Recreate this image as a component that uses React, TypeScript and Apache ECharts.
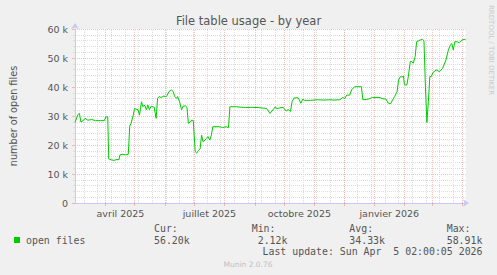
import React, { useEffect, useRef } from "react";
import * as echarts from "echarts";

const TITLE = "File table usage - by year";
const Y_NAME = "number of open files";
const START_MS = Date.UTC(2025, 2, 1, 2, 0, 5);
const DAY_MS = 86400000;
const SPAN_DAYS = 400;

// days since the graph start (1 Mar 2025) and open files in thousands
const dayOffsets = [
  0, 3, 4.5, 6, 8, 9.5, 11, 12.5, 14.5, 17, 21, 26, 30, 31.5, 33.5, 34.5, 37, 40, 43, 45,
  46, 49, 52, 54.5, 56, 57.5, 59.5, 61, 63, 64.5, 66, 68, 69.5, 71, 73, 74.5, 76, 78, 81, 83,
  84.5, 86, 88, 91, 93, 94.5, 96, 98.5, 100.5, 102, 104, 105, 107, 109, 110.5, 113, 114.5, 116, 118, 119.5,
  121, 123, 124.5, 126, 128, 129.5, 131, 133, 134.5, 136, 138, 139.5, 141, 148, 151, 154.5, 157, 158.5, 165, 174.5,
  180, 188, 196, 199.5, 203, 205, 206, 209.5, 213, 216, 218, 220.5, 222, 224, 228, 229.5, 231, 233, 235, 241,
  248, 254.5, 261, 265, 271, 274, 276, 278, 281, 283, 286, 293, 294.5, 298, 301, 304.5, 311, 316, 318, 320.5,
  323, 325, 327, 329.5, 331, 333, 334.5, 336, 337, 339.5, 341, 343, 344.5, 346, 348, 349.5, 353, 355.5, 357, 358.5,
  360, 361.5, 363, 364.5, 366, 369.5, 373, 376, 379.5, 382, 384, 385.5, 387, 388.5, 391, 393, 395, 397, 399.5,
];
const openFilesK = [
  27.8, 30.5, 30.9, 28.0, 28.3, 28.9, 29.2, 28.6, 28.6, 28.8, 28.4, 28.4, 28.4, 29.7, 29.7, 15.2, 14.9, 14.7, 15.0, 14.9,
  16.6, 16.8, 16.6, 16.8, 26.5, 27.6, 30.2, 32.6, 32.3, 32.2, 30.3, 34.9, 33.2, 33.8, 32.2, 33.8, 32.2, 33.4, 33.0, 29.2,
  36.1, 36.7, 36.4, 36.9, 36.6, 37.2, 38.4, 39.0, 38.4, 36.7, 36.1, 36.7, 34.9, 32.2, 33.4, 33.5, 33.0, 27.5, 27.9, 28.6,
  28.4, 17.7, 17.2, 18.0, 18.7, 23.4, 21.1, 21.7, 22.3, 22.9, 21.7, 23.4, 26.3, 26.3, 26.0, 26.3, 26.0, 33.2, 33.2, 32.9,
  33.0, 32.9, 32.6, 30.9, 32.3, 33.2, 32.5, 32.8, 33.0, 31.7, 32.2, 31.6, 34.9, 36.2, 36.3, 35.6, 34.4, 35.8, 35.4, 35.4,
  35.6, 35.5, 35.6, 35.5, 35.6, 36.4, 36.0, 37.2, 37.2, 39.0, 40.1, 40.1, 35.6, 35.7, 35.9, 36.4, 36.4, 35.9, 35.9, 34.4,
  34.3, 35.6, 36.7, 38.4, 42.4, 43.6, 43.4, 43.8, 40.7, 40.7, 43.6, 48.8, 48.8, 48.2, 50.5, 55.6, 56.2, 56.4, 56.0, 40.0,
  27.8, 35.0, 43.6, 43.6, 44.9, 45.9, 45.3, 46.4, 49.3, 52.8, 54.5, 55.0, 52.8, 55.6, 55.6, 55.3, 55.9, 56.4, 56.4,
];

// vertical grid: month starts (major) and every other Monday (minor), as days since start
const monthStartDays = [31, 61, 92, 122, 153, 184, 214, 245, 275, 306, 337, 365, 396];
const minorGridDays = [
  9, 23, 37, 51, 65, 79, 93, 107, 121, 135, 149, 163, 177, 191, 205, 219, 233, 247, 261, 275,
  289, 303, 317, 331, 345, 359, 373, 387,
];
const xLabelDays = [46.5, 137.5, 229.5, 321.5];
const xLabels = ["avril 2025", "juillet 2025", "octobre 2025", "janvier 2026"];

const legendName = "open files";
const statHeads = ["Cur:", "Min:", "Avg:", "Max:"];
const statValues = ["56.20k", "2.12k", "34.33k", "58.91k"];
const LAST_UPDATE = "Last update: Sun Apr  5 02:00:05 2026";
const VENDOR = "RRDTOOL / TOBI OETIKER";
const FOOTER = "Munin 2.0.76";

const toMs = (d: number) => START_MS + d * DAY_MS;

export default function App() {
  const ref = useRef<HTMLDivElement>(null);
  useEffect(() => {
    if (!ref.current) return;
    const chart = echarts.init(ref.current, null, { renderer: "svg" });
    const sans = "DejaVu Sans";
    const mono = "DejaVu Sans Mono";
    const textColor = "#555";
    const redGrid = "rgba(230,130,130,0.5)";
    const grayGrid = "#dcdcdc";
    const axisColor = "#c8c8f4";
    const labelTimes = xLabelDays.map(toMs);

    const statX = [154, 251.7, 349.3, 446.7];
    const valX = [154, 257.7, 349.3, 446.7];

    chart.setOption({
      animation: false,
      backgroundColor: "#f0f0f0",
      title: {
        text: TITLE,
        left: "center",
        top: 10,
        textStyle: { fontFamily: sans, fontSize: 11.5, fontWeight: "normal", color: textColor },
      },
      grid: {
        left: 66,
        top: 29,
        width: 400,
        height: 174,
        show: true,
        backgroundColor: "#ffffff",
        borderWidth: 0,
      },
      xAxis: {
        type: "value",
        min: toMs(0),
        max: toMs(SPAN_DAYS),
        axisLine: {
          show: true,
          lineStyle: { color: axisColor, width: 1 },
          symbol: ["none", "arrow"],
          symbolSize: [6, 6],
          symbolOffset: [0, 3],
        },
        axisTick: {
          show: true,
          customValues: monthStartDays.map(toMs),
          length: 3,
          lineStyle: { color: redGrid },
        },
        axisLabel: {
          show: true,
          customValues: labelTimes,
          margin: 5,
          fontFamily: sans,
          fontSize: 9.5,
          color: textColor,
          formatter: (v: number) => {
            let best = 0;
            for (let i = 1; i < labelTimes.length; i++) {
              if (Math.abs(labelTimes[i] - v) < Math.abs(labelTimes[best] - v)) best = i;
            }
            return xLabels[best];
          },
        },
        splitLine: { show: false },
      },
      yAxis: {
        type: "value",
        min: 0,
        max: 60,
        interval: 10,
        name: Y_NAME,
        nameLocation: "middle",
        nameGap: 57,
        nameTextStyle: { fontFamily: sans, fontSize: 9.7, color: textColor },
        axisLine: {
          show: true,
          lineStyle: { color: axisColor, width: 1 },
          symbol: ["none", "arrow"],
          symbolSize: [6, 6],
          symbolOffset: [0, 6],
        },
        axisTick: { show: true, length: 3, lineStyle: { color: redGrid } },
        minorTick: { show: true, splitNumber: 5, length: 2, lineStyle: { color: grayGrid } },
        axisLabel: {
          margin: 7,
          fontFamily: sans,
          fontSize: 9.5,
          color: textColor,
          formatter: (v: number) => (v === 0 ? "0" : `${v} k`),
        },
        splitLine: { show: true, lineStyle: { color: redGrid, type: "dotted", width: 1 } },
        minorSplitLine: { show: true, lineStyle: { color: grayGrid, type: "dotted", width: 1 } },
      },
      series: [
        {
          type: "line",
          data: [],
          silent: true,
          z: 1,
          markLine: {
            silent: true,
            symbol: "none",
            label: { show: false },
            animation: false,
            lineStyle: { color: grayGrid, type: "dotted", width: 1 },
            data: minorGridDays.map((d) => ({ xAxis: toMs(d) })),
          },
        },
        {
          type: "line",
          data: [],
          silent: true,
          z: 2,
          markLine: {
            silent: true,
            symbol: "none",
            label: { show: false },
            animation: false,
            lineStyle: { color: redGrid, type: "dotted", width: 1 },
            data: monthStartDays.map((d) => ({ xAxis: toMs(d) })),
          },
        },
        {
          name: legendName,
          type: "line",
          z: 5,
          showSymbol: false,
          symbol: "none",
          lineStyle: { color: "#00cc00", width: 1 },
          itemStyle: { color: "#00cc00" },
          data: dayOffsets.map((d, i) => [toMs(d), openFilesK[i]]),
        },
      ],
      graphic: [
        {
          type: "text",
          x: 491,
          y: 5,
          rotation: -Math.PI / 2,
          style: {
            text: VENDOR,
            fontFamily: sans,
            fontSize: 7,
            fill: "#c8c8c8",
            align: "left",
            verticalAlign: "middle",
          },
        },
        { type: "rect", shape: { x: 14, y: 237, width: 6, height: 6 }, style: { fill: "#00cc00" } },
        {
          type: "text",
          x: 26,
          y: 240,
          style: { text: legendName, fontFamily: mono, fontSize: 9.9, fill: textColor, verticalAlign: "middle" },
        },
        ...statHeads.map((t, i) => ({
          type: "text",
          x: statX[i],
          y: 228.3,
          style: { text: t, fontFamily: mono, fontSize: 9.9, fill: textColor, verticalAlign: "middle" },
        })),
        ...statValues.map((t, i) => ({
          type: "text",
          x: valX[i],
          y: 240,
          style: { text: t, fontFamily: mono, fontSize: 9.9, fill: textColor, verticalAlign: "middle" },
        })),
        {
          type: "text",
          x: 482.5,
          y: 251.7,
          style: {
            text: LAST_UPDATE,
            fontFamily: mono,
            fontSize: 9.9,
            fill: textColor,
            align: "right",
            verticalAlign: "middle",
          },
        },
        {
          type: "text",
          x: 248,
          y: 264,
          style: {
            text: FOOTER,
            fontFamily: sans,
            fontSize: 7.5,
            fill: "#c0c0c0",
            align: "center",
            verticalAlign: "middle",
          },
        },
      ],
    });
    return () => chart.dispose();
  }, []);
  return (
    <div
      ref={ref}
      style={{ position: "fixed", left: 0, top: 0, width: 497, height: 275 }}
    />
  );
}
